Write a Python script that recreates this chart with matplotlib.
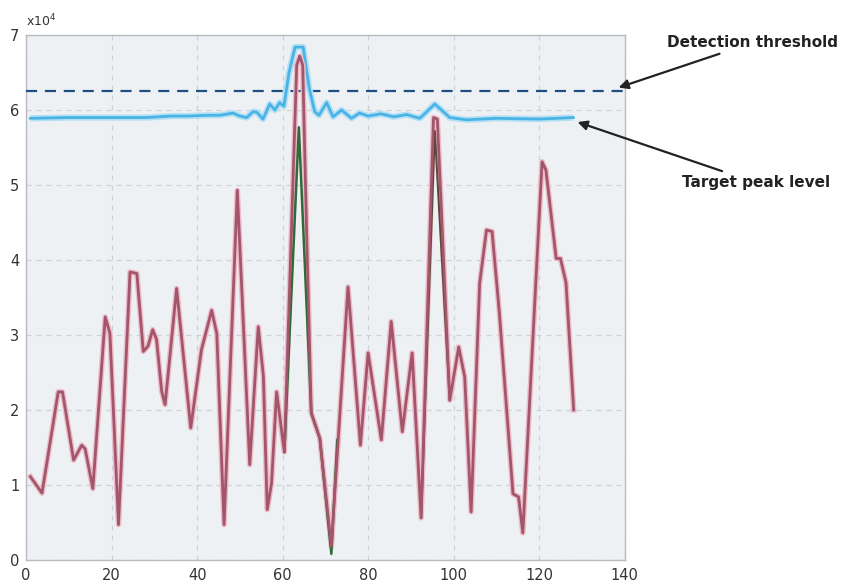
import matplotlib
matplotlib.use('Agg')
import matplotlib.pyplot as plt

# red: signal with target (x1e4)
red_x = [1, 3.7, 7.5, 8.5, 11.1, 13, 13.8, 15.6, 18.5, 19.6, 21.6, 24.3, 25.9, 27.4, 28.5, 29.6,
         30.5, 31.7, 32.5, 35.2, 38.5, 41, 43.4, 44.6, 46.3, 49.4, 52.3, 54.3, 55.5, 56.4, 57.4,
         58.6, 60.4, 63.3, 64, 64.7, 65.6, 66.7, 68.7, 71.4, 75.3, 78.2, 80, 83.1, 85.4, 88,
         90.3, 92.4, 95.3, 96.2, 99.1, 101.2, 102.6, 104.1, 106.1, 107.7, 109, 110.7, 113.9,
         115.2, 116.2, 120.7, 121.6, 124, 125, 126.3, 128.1]
red_y = [1.11, 0.89, 2.24, 2.24, 1.33, 1.53, 1.48, 0.95, 3.24, 3.02, 0.47, 3.84, 3.82, 2.78, 2.85, 3.07,
         2.94, 2.25, 2.07, 3.62, 1.76, 2.8, 3.33, 3.02, 0.47, 4.93, 1.27, 3.11, 2.45, 0.67, 1.02,
         2.24, 1.44, 6.6, 6.72, 6.6, 4.4, 1.96, 1.62, 0.18, 3.64, 1.53, 2.76, 1.6, 3.18, 1.71,
         2.76, 0.56, 5.9, 5.88, 2.13, 2.84, 2.44, 0.64, 3.69, 4.4, 4.38, 3.3, 0.88,
         0.84, 0.36, 5.31, 5.2, 4.02, 4.02, 3.7, 2.0]

# green: clutter only, differs near the target peaks
green_x = [60.4, 63.8, 66.7, 68.7, 71.4, 72.8]
green_y = [1.44, 5.77, 1.96, 1.62, 0.08, 1.6]
green2_x = [92.4, 95.6, 99.1]
green2_y = [0.56, 5.72, 2.13]

# cyan: peak level after processing
cyan_x = [1, 10, 20, 28, 34, 38, 42, 45.3, 48.4, 50, 51.6, 53.1, 54, 55.4, 57.0, 58.2, 59.3,
          60.3, 61.5, 62.9, 64.8, 66.2, 67.5, 68.5, 70.3, 71.8, 73.8, 76.1, 78, 80, 83, 86, 89,
          92.1, 95.6, 99.1, 103, 110, 120, 128]
cyan_y = [5.89, 5.9, 5.9, 5.9, 5.92, 5.92, 5.93, 5.93, 5.96, 5.92, 5.9, 5.98, 5.97, 5.88, 6.08,
          6.0, 6.1, 6.05, 6.5, 6.84, 6.84, 6.3, 5.98, 5.93, 6.1, 5.91, 6.0, 5.89, 5.96, 5.92, 5.95,
          5.91, 5.94, 5.89, 6.08, 5.9, 5.87, 5.89, 5.88, 5.9]

threshold = 6.25
xticks = [0, 20, 40, 60, 80, 100, 120, 140]
yticks = [0, 1, 2, 3, 4, 5, 6, 7]

fig = plt.figure(figsize=(8.44, 5.85), dpi=100)
ax = fig.add_axes([0.031, 0.043, 0.709, 0.897])
ax.set_facecolor('#eef1f4')

ax.axhline(threshold, color='#1f4f82', lw=1.6, ls=(0, (5, 3.5)), zorder=3)
ax.plot(cyan_x, cyan_y, color='#b3e0f5', lw=4.5, solid_capstyle='butt', zorder=3)
ax.plot(cyan_x, cyan_y, color='#4ab3e6', lw=2.0, zorder=4)
ax.plot(red_x, red_y, color='#ecbcc8', lw=4.0, zorder=4)
ax.plot(green_x, green_y, color='#2f6a38', lw=1.8, zorder=4.5)
ax.plot(green2_x, green2_y, color='#5a4a3a', lw=1.5, zorder=4.5)
ax.plot(red_x, red_y, color='#a3566b', lw=2.0, zorder=5)

ax.set_xlim(0, 140)
ax.set_ylim(0, 7)
ax.set_xticks(xticks)
ax.set_yticks(yticks)
ax.grid(True, color='#cdd1d5', lw=0.9, ls=(0, (4, 4)))
ax.set_axisbelow(True)
ax.tick_params(length=0, labelsize=10.5, colors='#333333')
ax.tick_params(axis='y', pad=5)
ax.tick_params(axis='x', pad=6)
for s in ax.spines.values():
    s.set_color('#b8bcc0')
    s.set_linewidth(1.0)

ax.text(0.0, 1.012, 'x10$^4$', transform=ax.transAxes, fontsize=9, color='#333333',
        ha='left', va='bottom')

ax.annotate('Detection threshold', xy=(138.6, 6.3), xytext=(150, 6.9),
            fontsize=11, fontweight='bold', color='#222222', va='center', ha='left',
            annotation_clip=False,
            arrowprops=dict(arrowstyle='-|>', color='#222222', lw=1.6, shrinkA=2, shrinkB=0,
                            mutation_scale=14))
ax.annotate('Target peak level', xy=(129, 5.84), xytext=(153.5, 5.03),
            fontsize=11, fontweight='bold', color='#222222', va='center', ha='left',
            annotation_clip=False,
            arrowprops=dict(arrowstyle='-|>', color='#222222', lw=1.6, shrinkA=3, shrinkB=0,
                            mutation_scale=14))

fig.savefig('out.png', dpi=100, facecolor='white')
